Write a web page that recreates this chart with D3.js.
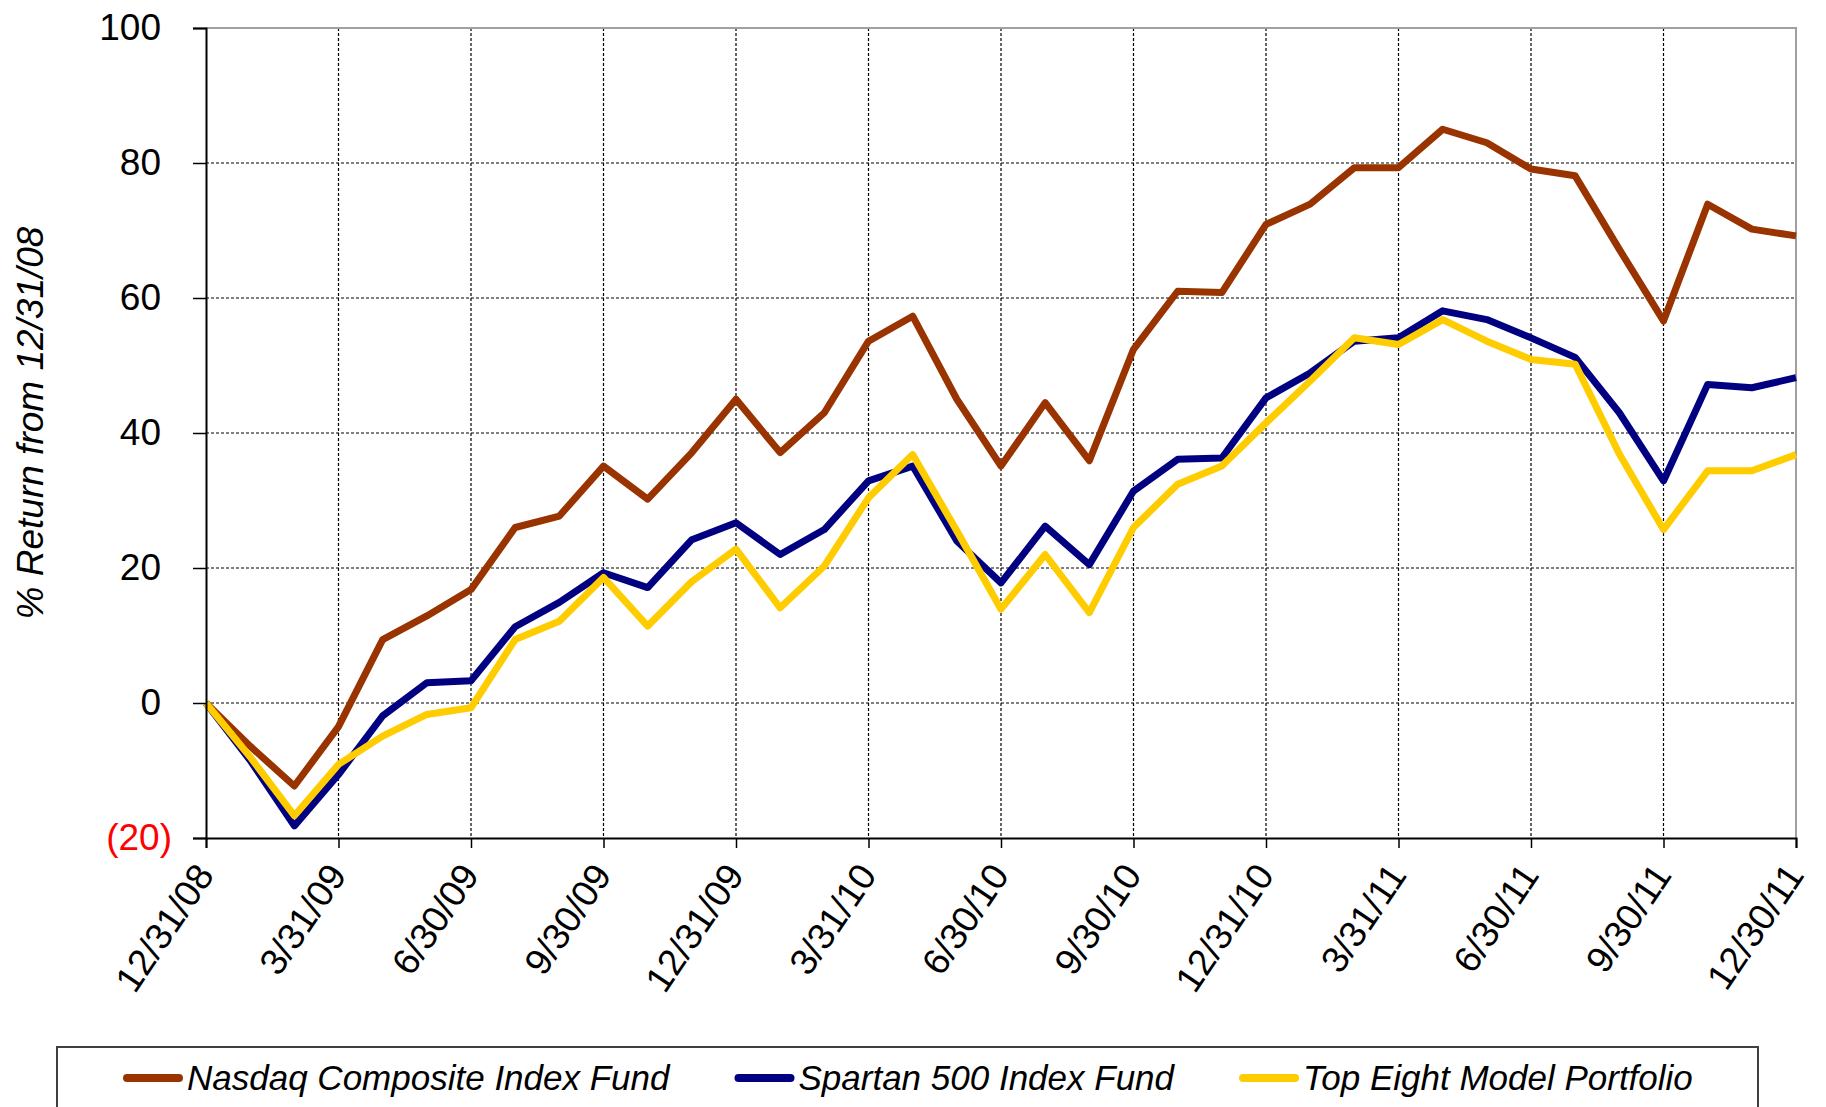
<!DOCTYPE html>
<html>
<head>
<meta charset="utf-8">
<script src="https://cdn.jsdelivr.net/npm/d3@7"></script>
<style>
  body { margin: 0; background: #fff; }
  svg { display: block; font-family: "Liberation Sans", Arial, sans-serif; }
</style>
</head>
<body>
<svg id="chart" width="1826" height="1107"></svg>
<script>
// month-end index 0 = 12/31/08 ... 36 = 12/30/11
var quarterTicks = [0, 3, 6, 9, 12, 15, 18, 21, 24, 27, 30, 33, 36];
var quarterLabels = ["12/31/08", "3/31/09", "6/30/09", "9/30/09", "12/31/09", "3/31/10",
                     "6/30/10", "9/30/10", "12/31/10", "3/31/11", "6/30/11", "9/30/11", "12/30/11"];
var yTicks = [-20, 0, 20, 40, 60, 80, 100];

var seriesNames = ["Nasdaq Composite Index Fund", "Spartan 500 Index Fund", "Top Eight Model Portfolio"];
var seriesColors = ["#993300", "#000080", "#ffcc00"];

var nasdaq = [0, -6.4, -12.3, -3.5, 9.4, 12.9, 16.8, 26.0, 27.7, 35.1, 30.2, 37.1, 45.0,
              37.1, 43.0, 53.6, 57.3, 45.0, 35.1, 44.5, 35.9, 52.4, 61.0, 60.8, 70.9,
              73.9, 79.3, 79.3, 85.0, 83.0, 79.1, 78.1, 67.2, 56.6, 73.9, 70.2, 69.2];
var spartan = [0, -8.5, -18.2, -10.6, -1.9, 3.0, 3.3, 11.3, 14.9, 19.3, 17.1, 24.2, 26.7,
               22.0, 25.7, 32.9, 35.1, 24.0, 17.8, 26.2, 20.5, 31.4, 36.1, 36.3, 45.2,
               48.9, 53.6, 54.1, 58.1, 56.8, 54.1, 51.2, 43.0, 32.9, 47.2, 46.7, 48.2];
var topEight = [0, -8.0, -16.7, -9.1, -4.9, -1.7, -0.7, 9.4, 12.1, 18.6, 11.4, 18.0, 22.8,
                14.1, 20.3, 30.4, 36.8, 25.5, 13.9, 22.0, 13.4, 26.0, 32.4, 35.1, 41.5,
                47.7, 54.1, 53.1, 56.8, 53.6, 50.9, 50.2, 36.9, 25.7, 34.4, 34.4, 36.8];

var allSeries = [nasdaq, spartan, topEight];

var svg = d3.select("#chart");
var plotL = 206, plotR = 1796, plotT = 28, plotB = 838;

var x = d3.scaleLinear().domain([0, nasdaq.length - 1]).range([plotL, plotR]);
var y = d3.scaleLinear().domain([-20, 100]).range([plotB, plotT]);

// grid
var grid = svg.append("g");
grid.selectAll("line.h")
    .data(yTicks.filter(function(d){ return d > -20 && d < 100; }))
    .enter().append("line")
    .attr("x1", plotL).attr("x2", plotR)
    .attr("y1", function(d){ return y(d); }).attr("y2", function(d){ return y(d); })
    .attr("stroke", "#000").attr("stroke-width", 1.2).attr("stroke-dasharray", "3,2");
grid.selectAll("line.v")
    .data(quarterTicks.slice(1, -1))
    .enter().append("line")
    .attr("y1", plotT).attr("y2", plotB)
    .attr("x1", function(d){ return x(d); }).attr("x2", function(d){ return x(d); })
    .attr("stroke", "#000").attr("stroke-width", 1.2).attr("stroke-dasharray", "3,2");

// plot border top/right
svg.append("path")
    .attr("d", "M" + plotL + "," + plotT + "H" + plotR + "V" + plotB)
    .attr("fill", "none").attr("stroke", "#a0a0a0").attr("stroke-width", 2);

// series lines
var line = d3.line()
    .x(function(d, i){ return x(i); })
    .y(function(d){ return y(d); });

svg.selectAll("path.series")
    .data(allSeries)
    .enter().append("path")
    .attr("class", "series")
    .attr("d", line)
    .attr("fill", "none")
    .attr("stroke", function(d, i){ return seriesColors[i]; })
    .attr("stroke-width", 7)
    .attr("stroke-linejoin", "round");

// y axis
var yAxis = svg.append("g")
    .attr("transform", "translate(" + plotL + ",0)")
    .call(d3.axisLeft(y).tickValues(yTicks).tickSize(13).tickPadding(45)
        .tickFormat(function(d){ return d < 0 ? "(" + Math.abs(d) + ")" : d; }));
yAxis.select(".domain").attr("stroke", "#000").attr("stroke-width", 2);
yAxis.selectAll(".tick line").attr("stroke", "#000").attr("stroke-width", 1.5);
yAxis.selectAll(".tick text")
    .attr("font-size", 37)
    .attr("fill", function(d){ return d < 0 ? "#ff0000" : "#000"; })
    .attr("x", function(d){ return d < 0 ? -34 : -45; });

// x axis
var xAxis = svg.append("g")
    .attr("transform", "translate(0," + plotB + ")")
    .call(d3.axisBottom(x).tickValues(quarterTicks).tickSize(10)
        .tickFormat(function(d, i){ return quarterLabels[i]; }));
xAxis.select(".domain").attr("stroke", "#000").attr("stroke-width", 2);
xAxis.selectAll(".tick line").attr("stroke", "#000").attr("stroke-width", 1.5);
xAxis.selectAll(".tick text")
    .attr("font-size", 37)
    .attr("fill", "#000")
    .attr("text-anchor", "end")
    .attr("x", 0).attr("y", 0).attr("dy", "0.35em")
    .attr("transform", "translate(-2,30) rotate(-56)");

// y axis title
svg.append("text")
    .attr("transform", "translate(43,423) rotate(-90)")
    .attr("text-anchor", "middle")
    .attr("font-size", 37)
    .attr("font-style", "italic")
    .text("% Return from 12/31/08");

// legend
var legend = svg.append("g");
legend.append("rect")
    .attr("x", 57).attr("y", 1047).attr("width", 1701).attr("height", 80)
    .attr("fill", "#fff").attr("stroke", "#404040").attr("stroke-width", 2);

var lx = 123;
seriesNames.forEach(function(name, i){
    legend.append("line")
        .attr("x1", lx + 4).attr("x2", lx + 56)
        .attr("y1", 1078).attr("y2", 1078)
        .attr("stroke", seriesColors[i]).attr("stroke-width", 8)
        .attr("stroke-linecap", "round");
    var t = legend.append("text")
        .attr("x", lx + 64).attr("y", 1090)
        .attr("font-size", 35)
        .attr("font-style", "italic")
        .text(name);
    lx += 64 + t.node().getComputedTextLength() + 65;
});
</script>
</body>
</html>
